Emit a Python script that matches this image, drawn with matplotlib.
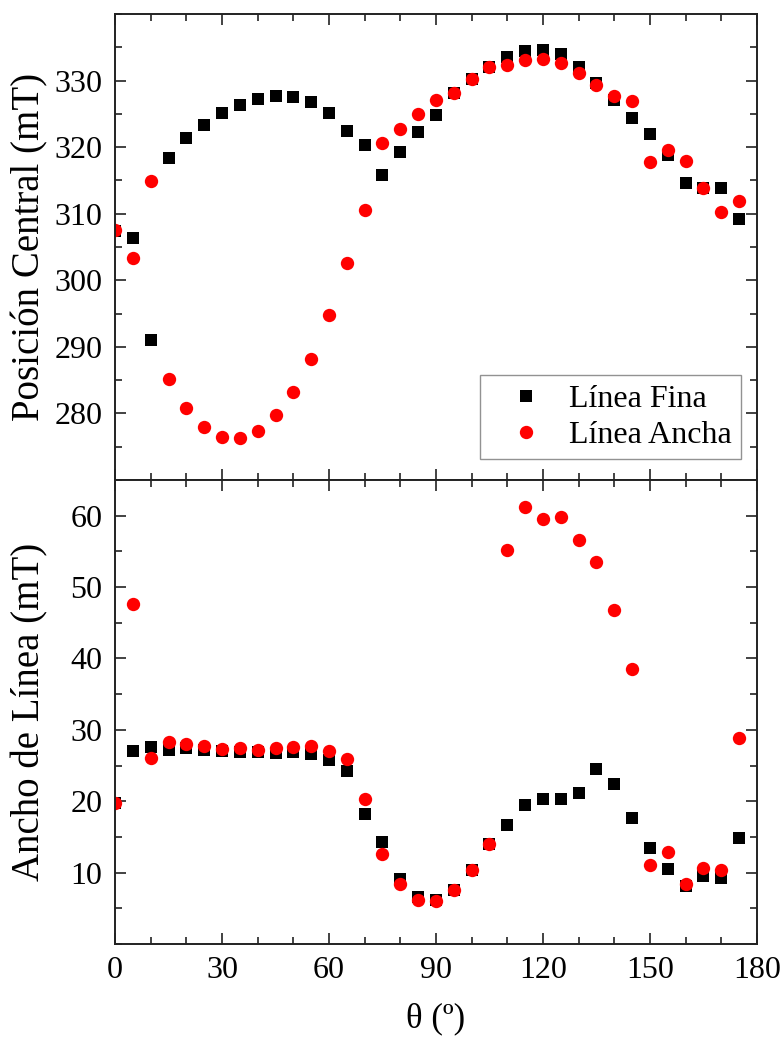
import matplotlib
matplotlib.use("Agg")
import matplotlib.pyplot as plt
from matplotlib.ticker import MultipleLocator

plt.rcParams["font.family"] = ["Liberation Serif", "DejaVu Serif"]

# Rotation angle (degrees)
theta = [0, 5, 10, 15, 20, 25, 30, 35, 40, 45, 50, 55, 60, 65, 70, 75, 80, 85,
         90, 95, 100, 105, 110, 115, 120, 125, 130, 135, 140, 145, 150, 155,
         160, 165, 170, 175]

# Central field position (mT)
pos_fina = [307.4, 306.4, 291.1, 318.4, 321.3, 323.3, 325.1, 326.3, 327.2,
            327.65, 327.5, 326.8, 325.1, 322.4, 320.3, 315.8, 319.2, 322.2,
            324.8, 328.2, 330.2, 332.1, 333.5, 334.5, 334.6, 334.0, 332.1,
            329.7, 327.1, 324.4, 321.9, 318.8, 314.6, 313.8, 313.85, 309.2]
pos_ancha = [307.5, 303.4, 314.85, 285.2, 280.8, 277.95, 276.45, 276.3, 277.3,
             279.7, 283.2, 288.2, 294.8, 302.55, 310.6, 320.6, 322.8, 325.0,
             327.1, 328.1, 330.2, 332.0, 332.4, 333.1, 333.3, 332.7, 331.2,
             329.35, 327.7, 327.0, 317.75, 319.5, 317.9, 313.8, 310.2, 311.9]

# Line width (mT)
ancho_fina = [19.8, 27.0, 27.6, 27.2, 27.4, 27.2, 27.1, 26.95, 26.85, 26.8,
              26.85, 26.6, 25.8, 24.2, 18.25, 14.3, 9.1, 6.55, 6.1, 7.6, 10.3,
              14.07, 16.7, 19.46, 20.25, 20.35, 21.1, 24.5, 22.35, 17.6, 13.5,
              10.5, 8.1, 9.55, 9.2, 14.8]
ancho_ancha = [19.8, 47.6, 26.07, 28.3, 27.96, 27.8, 27.3, 27.4, 27.2, 27.4,
               27.6, 27.8, 27.1, 25.9, 20.25, 12.6, 8.4, 6.2, 6.0, 7.6, 10.3,
               14.07, 55.26, 61.2, 59.6, 59.8, 56.6, 53.5, 46.8, 38.5, 11.1,
               12.9, 8.4, 10.7, 10.35, 28.9]

x_ticks = [0, 30, 60, 90, 120, 150, 180]
labels = ["Línea Fina", "Línea Ancha"]

fig = plt.figure(figsize=(7.84, 10.37), dpi=100)
L, R = 115 / 784, 757 / 784
ax1 = fig.add_axes([L, 1 - 480 / 1037, R - L, (480 - 14) / 1037])
ax2 = fig.add_axes([L, 1 - 944 / 1037, R - L, (944 - 480) / 1037])

sq = dict(marker="s", ms=8.6, color="black", ls="none", mew=0)
ci = dict(marker="o", ms=9.6, color="#ff0000", ls="none", mew=0)

ax1.plot(theta, pos_fina, label=labels[0], **sq)
ax1.plot(theta, pos_ancha, label=labels[1], **ci)
ax2.plot(theta, ancho_fina, **sq)
ax2.plot(theta, ancho_ancha, **ci)

ax1.set_ylim(270, 340)
ax1.set_yticks([280, 290, 300, 310, 320, 330])
ax1.yaxis.set_minor_locator(MultipleLocator(5))
ax2.set_ylim(0, 65)
ax2.set_yticks([10, 20, 30, 40, 50, 60])
ax2.yaxis.set_minor_locator(MultipleLocator(5))

for ax in (ax1, ax2):
    ax.set_xlim(0, 180)
    ax.set_xticks(x_ticks)
    ax.xaxis.set_minor_locator(MultipleLocator(10))
    ax.tick_params(which="both", direction="in", top=True, right=True,
                   labelsize=23, pad=9, color="#222222")
    ax.tick_params(which="major", length=8, width=1.2)
    ax.tick_params(which="minor", length=5, width=1.2)
    for s in ax.spines.values():
        s.set_linewidth(1.4)
        s.set_color("#222222")

ax1.tick_params(labelbottom=False)
ax1.set_ylabel("Posición Central (mT)", fontsize=28)
ax2.set_ylabel("Ancho de Línea (mT)", fontsize=28)
ax2.set_xlabel("θ (º)", fontsize=25, labelpad=12)
ax1.yaxis.set_label_coords(-0.103, 0.5)
ax2.yaxis.set_label_coords(-0.103, 0.5)

leg = ax1.legend(loc="lower right", bbox_to_anchor=(0.975, 0.045),
                 borderaxespad=0, fontsize=23, frameon=True, fancybox=False,
                 edgecolor="#777777", handletextpad=0.18, borderpad=0.28,
                 labelspacing=0.22, handlelength=2.34)
leg.get_frame().set_linewidth(1.0)

fig.savefig("out.png", dpi=100)
